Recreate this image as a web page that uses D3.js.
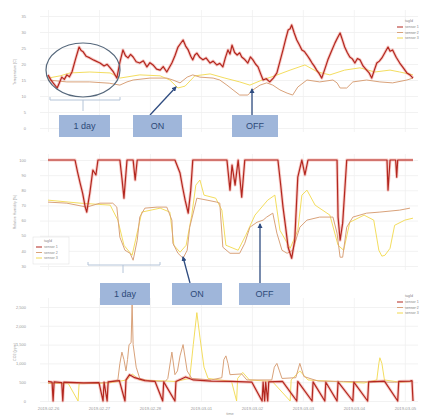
<!DOCTYPE html>
<html><head><meta charset="utf-8">
<script src="https://cdn.jsdelivr.net/npm/d3@7"></script>
<style>body{margin:0;background:#fff}svg{display:block}text{font-family:"Liberation Sans",Arial,sans-serif}</style>
</head><body><svg id="c" width="428" height="417"></svg>
<script>
// ---------- data ----------
const seriesNames = ["sensor 1", "sensor 2", "sensor 3"];
const legendTitle = "tagId";
const xTickLabels = ["2019-02-26","2019-02-27","2019-02-28","2019-03-01","2019-03-02","2019-03-03","2019-03-04","2019-03-05"];
const xTitle = "time";
const tempTicks = [0,5,10,15,20,25,30,35];
const humTicks = [30,40,50,60,70,80,90,100];
const co2Ticks = [0,500,1000,1500,2000,2500];
const yTitles = ["Temperature (C)", "Relative Humidity (%)", "CO2 (ppm)"];

// temperature [day, value]
const temp1 = [[0,16.6],[0.05,15.2],[0.1,14.1],[0.18,12.5],[0.22,14.0],[0.27,15.9],[0.32,15.2],[0.37,16.6],[0.42,16.0],[0.47,17.5],[0.54,21.5],[0.61,25.3],[0.65,24.2],[0.69,23.8],[0.75,22.4],[0.82,21.9],[0.9,21.2],[1.02,20.3],[1.1,19.4],[1.16,19.9],[1.22,18.8],[1.28,17.6],[1.35,15.6],[1.41,20.5],[1.47,24.4],[1.52,22.6],[1.57,21.9],[1.62,23.0],[1.67,22.2],[1.73,20.7],[1.8,20.3],[1.87,21.0],[1.94,19.1],[2.0,20.4],[2.06,19.7],[2.13,18.4],[2.2,18.1],[2.26,19.2],[2.33,17.5],[2.43,20.3],[2.49,22.6],[2.55,25.3],[2.6,26.4],[2.65,27.5],[2.7,25.6],[2.75,24.4],[2.8,22.4],[2.84,21.3],[2.88,22.8],[2.92,23.4],[2.98,22.0],[3.04,21.3],[3.1,21.9],[3.18,20.3],[3.24,20.9],[3.31,19.7],[3.37,20.2],[3.43,19.1],[3.48,22.0],[3.53,24.4],[3.57,23.1],[3.61,25.9],[3.66,23.6],[3.71,22.8],[3.76,23.5],[3.8,22.2],[3.86,21.4],[3.92,20.3],[3.97,22.2],[4.02,21.3],[4.07,20.0],[4.12,19.1],[4.17,17.0],[4.22,15.0],[4.28,15.4],[4.35,14.4],[4.42,15.6],[4.49,17.2],[4.55,20.8],[4.61,24.4],[4.66,27.6],[4.71,30.6],[4.75,31.0],[4.78,32.2],[4.83,29.7],[4.88,27.5],[4.93,26.0],[4.98,24.4],[5.03,23.9],[5.08,22.8],[5.13,21.6],[5.18,20.3],[5.22,19.4],[5.27,18.1],[5.32,17.0],[5.37,15.6],[5.43,18.4],[5.49,21.3],[5.56,24.0],[5.63,26.6],[5.68,28.2],[5.73,29.7],[5.78,27.3],[5.82,25.3],[5.87,23.6],[5.92,22.2],[5.97,21.6],[6.02,20.3],[6.07,21.7],[6.12,21.3],[6.18,19.4],[6.25,18.1],[6.3,17.2],[6.35,15.6],[6.4,18.0],[6.45,20.3],[6.5,20.9],[6.55,21.9],[6.61,23.6],[6.67,25.3],[6.71,24.0],[6.76,24.4],[6.83,22.1],[6.9,20.3],[6.97,18.8],[7.04,17.2],[7.1,16.6],[7.16,15.6]];
const temp2 = [[0,15.0],[0.37,14.4],[0.82,14.4],[1.2,14.0],[1.41,13.4],[1.55,14.4],[1.67,15.0],[2.0,15.6],[2.33,15.6],[2.45,15.0],[2.59,14.1],[2.73,15.9],[2.84,16.6],[2.98,15.9],[3.24,15.6],[3.37,15.0],[3.51,13.4],[3.63,11.9],[3.76,10.3],[3.92,10.3],[4.02,11.9],[4.16,13.4],[4.29,14.1],[4.41,13.4],[4.55,11.9],[4.69,10.9],[4.8,10.3],[4.9,12.8],[5.08,15.0],[5.33,14.4],[5.59,15.0],[5.67,14.1],[5.73,12.5],[5.86,12.5],[5.98,14.4],[6.25,15.0],[6.51,14.4],[6.76,14.1],[7.04,15.0],[7.16,15.6]];
const temp3 = [[0,15.6],[0.24,16.3],[0.43,17.2],[0.82,17.5],[1.22,17.2],[1.41,15.6],[1.8,16.6],[2.2,16.3],[2.39,15.0],[2.55,12.5],[2.69,13.1],[2.88,16.3],[3.18,16.9],[3.47,15.6],[3.76,14.4],[3.96,13.4],[4.2,15.0],[4.45,16.3],[4.75,18.1],[5.04,19.7],[5.29,17.5],[5.53,16.6],[5.82,18.1],[6.12,18.8],[6.41,17.5],[6.71,18.1],[6.9,17.5],[7.16,16.6]];

// relative humidity [day, value]
const hum1 = [[0,100],[0.53,100],[0.58,92],[0.63,84.8],[0.68,78],[0.73,68.9],[0.76,65.6],[0.79,72],[0.82,78.1],[0.88,93.4],[0.94,90.1],[0.98,100],[1.41,100],[1.45,88],[1.49,74.8],[1.55,100],[1.67,100],[1.71,86.8],[1.75,100],[2.49,100],[2.59,91.4],[2.64,82],[2.69,73.5],[2.75,64.9],[2.8,80.1],[2.84,100],[3.51,100],[3.57,80.1],[3.61,96.7],[3.67,83.4],[3.73,100],[3.8,75.5],[3.86,100],[4.51,100],[4.56,85],[4.61,68.9],[4.66,56],[4.71,42.4],[4.78,35.1],[4.84,47.0],[4.9,88.7],[4.98,100],[5.04,90.1],[5.1,100],[5.67,100],[5.69,62.3],[5.73,47.0],[5.78,58.3],[5.86,100],[6.65,100],[6.67,80.1],[6.71,100],[6.82,100],[6.84,88.7],[6.86,100],[7.16,100]];
const hum2 = [[0,72.2],[0.37,71.5],[0.76,68.9],[1.02,71.5],[1.27,71.5],[1.35,68.9],[1.41,49.0],[1.51,40.4],[1.61,38.4],[1.67,33.8],[1.75,47.0],[1.8,62.3],[1.9,68.2],[2.14,68.9],[2.33,68.9],[2.43,60.3],[2.45,45.0],[2.55,38.4],[2.65,35.1],[2.73,40.4],[2.78,55.6],[2.92,74.8],[3.12,73.5],[3.31,72.2],[3.37,71.5],[3.43,42.4],[3.57,38.4],[3.76,38.4],[3.86,45.0],[3.96,55.6],[4.1,58.9],[4.22,60.3],[4.29,62.3],[4.41,64.9],[4.49,51.7],[4.59,40.4],[4.69,38.4],[4.8,40.4],[4.94,55.6],[5.08,60.3],[5.33,62.3],[5.59,62.3],[5.67,51.7],[5.73,35.8],[5.78,35.8],[5.86,55.6],[5.98,62.3],[6.25,64.9],[6.51,65.6],[6.9,66.9],[7.1,68.2]];
const hum3 = [[0,73.5],[0.63,71.5],[1.22,70.2],[1.37,60.3],[1.49,43.7],[1.65,37.1],[1.76,53.6],[1.84,65.6],[2.2,68.2],[2.39,65.6],[2.47,43.7],[2.59,39.1],[2.71,43.7],[2.82,63.6],[2.9,83.4],[2.98,86.8],[3.06,76.8],[3.29,74.8],[3.41,66.9],[3.49,43.7],[3.73,40.4],[3.88,50.3],[4.06,63.6],[4.31,73.5],[4.45,76.8],[4.55,53.6],[4.75,41.7],[4.9,53.6],[4.98,76.8],[5.08,80.1],[5.24,70.2],[5.53,63.6],[5.69,43.7],[5.8,40.4],[5.92,58.9],[6.2,63.6],[6.39,60.3],[6.49,40.4],[6.55,36.5],[6.61,37.1],[6.71,41.7],[6.8,56.9],[7.0,60.3],[7.16,61.6]];

// CO2 [day, value]
const co21 = [[0,520],[0.08,500],[0.1,0],[0.12,510],[0.27,490],[0.29,0],[0.31,500],[0.7,480],[1.0,490],[1.08,0],[1.1,500],[1.16,0],[1.18,510],[1.4,540],[1.51,0],[1.53,560],[1.6,700],[1.7,620],[1.9,540],[2.1,520],[2.25,0],[2.27,510],[2.49,0],[2.51,520],[2.7,640],[2.85,560],[3.2,530],[3.6,520],[4.0,500],[4.2,0],[4.22,500],[4.25,0],[4.27,500],[4.31,0],[4.33,510],[4.6,520],[4.88,0],[4.9,520],[5.18,0],[5.2,510],[5.43,0],[5.45,500],[5.67,0],[5.69,510],[5.98,0],[6.0,500],[6.27,0],[6.29,510],[6.6,530],[6.86,0],[6.88,520],[7.1,530],[7.14,540],[7.16,0]];
const co22 = [[0,480],[0.6,470],[1.0,480],[1.2,500],[1.37,560],[1.41,1000],[1.45,1300],[1.49,1100],[1.53,800],[1.56,1100],[1.59,1500],[1.63,1550],[1.65,2600],[1.67,1500],[1.73,900],[1.8,600],[2.0,530],[2.3,520],[2.35,600],[2.43,1300],[2.49,700],[2.54,800],[2.59,1200],[2.65,1500],[2.73,800],[2.82,600],[3.2,560],[3.41,620],[3.45,1100],[3.49,1200],[3.53,1000],[3.57,700],[3.8,720],[3.9,560],[4.39,560],[4.44,900],[4.49,1000],[4.54,800],[4.59,600],[4.86,620],[4.94,1000],[5.02,650],[5.3,530],[5.8,520],[6.3,510],[6.8,500],[7.16,520]];
const co23 = [[0,470],[0.4,460],[0.59,0],[0.61,460],[1.2,480],[1.55,560],[1.65,720],[1.8,560],[2.5,520],[2.78,600],[2.85,1500],[2.92,2350],[2.98,1700],[3.06,900],[3.14,600],[3.6,520],[3.7,0],[3.72,600],[3.82,760],[3.95,560],[4.4,520],[4.75,0],[4.77,560],[4.94,800],[5.1,560],[5.6,520],[6.2,480],[6.45,560],[6.49,1000],[6.51,1150],[6.55,1000],[6.6,560],[6.9,500],[7.16,520]];

// ---------- drawing ----------
const svg = d3.select("#c");
svg.append("rect").attr("width",428).attr("height",417).attr("fill","#fff");
const colors = ["#b3271f", "#d9a27a", "#f2d94e"];
const x = d3.scaleLinear().domain([0, 7.16]).range([48, 413]);
const dayTicks = d3.range(xTickLabels.length);

const panels = [
  {y: d3.scaleLinear().domain([0,35]).range([128,16]), ticks: tempTicks, top: 10, bottom: 132, data: [temp1,temp2,temp3], title: yTitles[0], tcy: 72},
  {y: d3.scaleLinear().domain([30,100]).range([266,160]), ticks: humTicks, top: 154, bottom: 270, data: [hum1,hum2,hum3], title: yTitles[1], tcy: 212},
  {y: d3.scaleLinear().domain([0,2500]).range([401,307]), ticks: co2Ticks, top: 298, bottom: 402, data: [co21,co22,co23], title: yTitles[2], tcy: 352}
];

panels.forEach((p, pi) => {
  const g = svg.append("g");
  // horizontal grid
  g.append("g").attr("transform","translate(40,0)")
    .call(d3.axisLeft(p.y).tickValues(p.ticks).tickSize(-378).tickFormat(""))
    .call(a => a.select(".domain").remove())
    .call(a => a.selectAll("line").attr("stroke","#ececec").attr("stroke-width",0.7));
  // vertical grid
  g.append("g").attr("transform",`translate(0,${p.bottom})`)
    .call(d3.axisBottom(x).tickValues(dayTicks).tickSize(-(p.bottom-p.top)).tickFormat(""))
    .call(a => a.select(".domain").remove())
    .call(a => a.selectAll("line").attr("stroke","#efefef").attr("stroke-width",0.7));
  // y tick labels
  g.append("g").attr("transform","translate(29,0)")
    .call(d3.axisLeft(p.y).tickValues(p.ticks).tickSize(0))
    .call(a => a.select(".domain").remove())
    .call(a => a.selectAll("text").attr("font-size",4).attr("fill","#999"));
  // y title
  g.append("text").attr("transform",`translate(16,${p.tcy}) rotate(-90)`)
    .attr("text-anchor","middle").attr("font-size",3.6).attr("fill","#999").text(p.title);
  const line = d3.line().x(d => x(d[0])).y(d => p.y(d[1]));
  // draw order: yellow, tan, red
  [2,1,0].forEach(si => {
    if (si === 0) {
      g.append("path").datum(p.data[si]).attr("d", line).attr("fill","none")
        .attr("stroke","#ee8a80").attr("stroke-width",3).attr("stroke-opacity",0.45).attr("stroke-linejoin","round");
    }
    g.append("path").datum(p.data[si]).attr("d", line).attr("fill","none")
      .attr("stroke", colors[si]).attr("stroke-width", si===0 ? 1.2 : 1).attr("stroke-linejoin","round")
      .attr("stroke-opacity", si===2 ? 0.9 : 1);
  });
});

// x axis labels (bottom panel)
svg.append("g").attr("transform","translate(0,404)")
  .call(d3.axisBottom(x).tickValues(dayTicks).tickSize(0).tickFormat(i => xTickLabels[i]))
  .call(a => a.select(".domain").remove())
  .call(a => a.selectAll("text").attr("font-size",4.2).attr("fill","#999"));
svg.append("text").attr("x",230).attr("y",415).attr("text-anchor","middle").attr("font-size",4).attr("fill","#999").text(xTitle);

// legends
function legend(x0, y0, boxed) {
  const g = svg.append("g").attr("transform",`translate(${x0},${y0})`);
  if (boxed) g.append("rect").attr("x",-3).attr("y",-5).attr("width",36).attr("height",27).attr("fill","#fff").attr("stroke","#ddd").attr("stroke-width",0.5);
  g.append("text").attr("x",8).attr("y",0).attr("font-size",3.6).attr("fill","#888").text(legendTitle);
  seriesNames.forEach((n,i) => {
    g.append("line").attr("x1",0).attr("x2",6).attr("y1",5+i*5.5).attr("y2",5+i*5.5).attr("stroke",colors[i]).attr("stroke-width",1);
    g.append("text").attr("x",8).attr("y",6.3+i*5.5).attr("font-size",3.6).attr("fill","#888").text(n);
  });
}
legend(397, 22, false);
legend(36, 242, true);
legend(397, 297, false);

// annotations
const ann = svg.append("g");
ann.append("ellipse").attr("cx",83).attr("cy",70).attr("rx",37).attr("ry",27)
  .attr("fill","none").attr("stroke","#56687c").attr("stroke-width",1.2);
const bracket = (x1,x2,y,cx,ty) => {
  ann.append("path").attr("d",`M${x1},${y-3}L${x1},${y}L${x2},${y}L${x2},${y-3}M${cx},${y}L${cx},${ty}`)
    .attr("fill","none").attr("stroke","#b4c4d8").attr("stroke-width",1);
};
bracket(50,120,100,83,111);
bracket(88,160,265,123,273);

const defs = svg.append("defs");
defs.append("marker").attr("id","ah").attr("viewBox","0 0 10 10").attr("refX",8).attr("refY",5)
  .attr("markerWidth",4).attr("markerHeight",4).attr("orient","auto")
  .append("path").attr("d","M0,0L10,5L0,10z").attr("fill","#2f4c80");
const arrow = (x1,y1,x2,y2) => ann.append("line").attr("x1",x1).attr("y1",y1).attr("x2",x2).attr("y2",y2)
  .attr("stroke","#2f4c80").attr("stroke-width",1.3).attr("marker-end","url(#ah)");
arrow(150,115,176,87);
arrow(252,115,252,89);
arrow(190,283,183,257);
arrow(260,283,260,224);

const box = (bx,by,w,h,t) => {
  ann.append("rect").attr("x",bx).attr("y",by).attr("width",w).attr("height",h).attr("fill","#9fb6da");
  ann.append("text").attr("x",bx+w/2).attr("y",by+h/2+3.2).attr("text-anchor","middle")
    .attr("font-size",9).attr("fill","#2d4a78").text(t);
};
box(59,115,51,22,"1 day");
box(133,115,49,22,"ON");
box(232,115,46,22,"OFF");
box(100,283,50,22,"1 day");
box(172,283,50,22,"ON");
box(239,283,51,22,"OFF");
</script></body></html>
